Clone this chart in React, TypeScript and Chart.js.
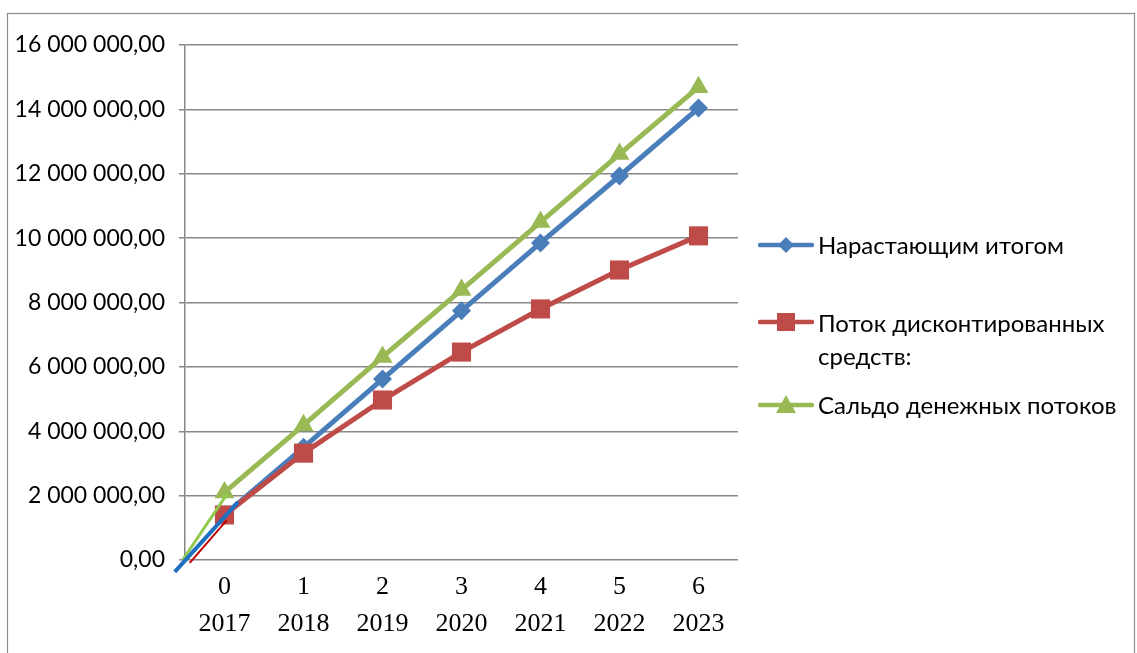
import React, { useEffect, useRef } from "react";
import { Chart, registerables } from "chart.js";

Chart.register(...registerables);

const categories: string[][] = [
  ["0", "2017"],
  ["1", "2018"],
  ["2", "2019"],
  ["3", "2020"],
  ["4", "2021"],
  ["5", "2022"],
  ["6", "2023"],
];

const seriesNames = [
  "Нарастающим итогом",
  "Поток дисконтированных средств:",
  "Сальдо денежных потоков",
];

const cumulativeValues = [1400000, 3500000, 5620000, 7740000, 9850000, 11930000, 14040000];
const discountedValues = [1400000, 3320000, 4970000, 6460000, 7800000, 9010000, 10070000];
const balanceValues = [2100000, 4190000, 6310000, 8390000, 10500000, 12610000, 14690000];

// short stray lead-in segments visible near the origin (x in category index units)
const leadCumulative = [
  { x: -0.63, y: -370000 },
  { x: 0.17, y: 1800000 },
];
const leadDiscounted = [
  { x: -0.44, y: -90000 },
  { x: 0.03, y: 1240000 },
];
const leadBalance = [
  { x: -0.53, y: 0 },
  { x: 0.04, y: 2080000 },
];

const yTicks = [0, 2000000, 4000000, 6000000, 8000000, 10000000, 12000000, 14000000, 16000000];

const BLUE = "#4A7EBB";
const RED = "#BE4B48";
const GREEN = "#98B954";

const fmt = (v: number) => {
  const parts = Math.abs(v).toFixed(2).split(".");
  const int = parts[0].replace(/\B(?=(\d{3})+(?!\d))/g, " ");
  return (v < 0 ? "-" : "") + int + "," + parts[1];
};

const LegendMarker = ({ color, shape }: { color: string; shape: string }) => (
  <svg width="56" height="26" style={{ display: "block" }}>
    <line x1="2" y1="13" x2="54" y2="13" stroke={color} strokeWidth="4.5" strokeLinecap="round" />
    {shape === "diamond" && <polygon points="28,5 36,13 28,21 20,13" fill={color} />}
    {shape === "square" && <rect x="19" y="4" width="18" height="18" fill={color} />}
    {shape === "triangle" && <polygon points="28,3 38,21 18,21" fill={color} />}
  </svg>
);

export default function App() {
  const canvasRef = useRef<HTMLCanvasElement | null>(null);

  useEffect(() => {
    if (!canvasRef.current) return;
    const framePlugin = {
      id: "frame",
      beforeDraw(chart: any) {
        const ctx = chart.ctx;
        ctx.save();
        ctx.fillStyle = "#ffffff";
        ctx.fillRect(0, 0, chart.width, chart.height);
        ctx.strokeStyle = "#8c8c8c";
        ctx.lineWidth = 1.2;
        ctx.strokeRect(7.5, 13.5, 1127, 700);
        ctx.restore();
      },
    };

    const chart = new Chart(canvasRef.current, {
      type: "line",
      data: {
        labels: categories as any,
        datasets: [
          {
            label: "lead1",
            data: leadCumulative as any,
            xAxisID: "x2",
            borderColor: "#1F6FC0",
            borderWidth: 4,
            pointRadius: 0,
            clip: false as any,
          },
          {
            label: "lead2",
            data: leadDiscounted as any,
            xAxisID: "x2",
            borderColor: "#C00000",
            borderWidth: 2,
            pointRadius: 0,
            clip: false as any,
          },
          {
            label: "lead3",
            data: leadBalance as any,
            xAxisID: "x2",
            borderColor: "#92C84F",
            borderWidth: 3,
            pointRadius: 0,
            clip: false as any,
          },
          {
            label: seriesNames[2],
            data: balanceValues,
            borderColor: GREEN,
            backgroundColor: GREEN,
            borderWidth: 5,
            pointStyle: "triangle",
            pointRadius: 11.5,
            pointBorderWidth: 0,
            clip: false as any,
          },
          {
            label: seriesNames[1],
            data: discountedValues,
            borderColor: RED,
            backgroundColor: RED,
            borderWidth: 5,
            pointStyle: "rect",
            pointRadius: 13.5,
            pointBorderWidth: 0,
            clip: false as any,
          },
          {
            label: seriesNames[0],
            data: cumulativeValues,
            borderColor: BLUE,
            backgroundColor: BLUE,
            borderWidth: 5,
            pointStyle: "rectRot",
            pointRadius: 9.5,
            pointBorderWidth: 0,
            clip: false as any,
          },
        ],
      },
      options: {
        responsive: false,
        animation: false,
        layout: { padding: { top: 45, right: 399, bottom: 0, left: 0 } },
        plugins: {
          legend: { display: false },
          tooltip: { enabled: false },
        },
        scales: {
          x: {
            type: "category",
            offset: true,
            grid: { display: false },
            border: { display: false },
            ticks: {
              color: "#000",
              padding: 1,
              maxRotation: 0,
              autoSkip: false,
              font: { family: "Liberation Serif", size: 26, lineHeight: 1.42 },
            },
            afterFit(scale: any) {
              scale.height = 93;
            },
          },
          x2: {
            type: "linear",
            display: false,
            min: -0.5,
            max: 6.5,
          },
          y: {
            min: 0,
            max: 16000000,
            afterBuildTicks(scale: any) {
              scale.ticks = yTicks.map((v) => ({ value: v }));
            },
            grid: {
              color: "#878787",
              lineWidth: 1.5,
              tickLength: 6,
            },
            border: { color: "#878787", width: 1.5 },
            ticks: {
              color: "#000",
              padding: 14,
              font: { family: "Lato", size: 23 },
              callback: (v: any) => fmt(Number(v)),
            },
            afterFit(scale: any) {
              scale.width = 185;
            },
          },
        },
      },
      plugins: [framePlugin],
    });
    return () => chart.destroy();
  }, []);

  const textStyle: React.CSSProperties = {
    fontFamily: "Lato",
    fontSize: 24,
    color: "#000",
    lineHeight: "33px",
    whiteSpace: "nowrap",
  };

  return (
    <div style={{ position: "absolute", left: 0, top: 0, width: 1137, height: 653, background: "#fff" }}>
      <canvas ref={canvasRef} width={1137} height={653} style={{ display: "block" }} />
      <div style={{ position: "absolute", left: 758, top: 228, display: "flex", alignItems: "center" }}>
        <LegendMarker color={BLUE} shape="diamond" />
        <div style={{ ...textStyle, marginLeft: 4 }}>{seriesNames[0]}</div>
      </div>
      <div style={{ position: "absolute", left: 758, top: 309, display: "flex", alignItems: "flex-start" }}>
        <LegendMarker color={RED} shape="square" />
        <div style={{ ...textStyle, marginLeft: 4, marginTop: -3.5 }}>
          Поток дисконтированных
          <br />
          средств:
        </div>
      </div>
      <div style={{ position: "absolute", left: 758, top: 388, display: "flex", alignItems: "center" }}>
        <LegendMarker color={GREEN} shape="triangle" />
        <div style={{ ...textStyle, marginLeft: 4 }}>{seriesNames[2]}</div>
      </div>
    </div>
  );
}
